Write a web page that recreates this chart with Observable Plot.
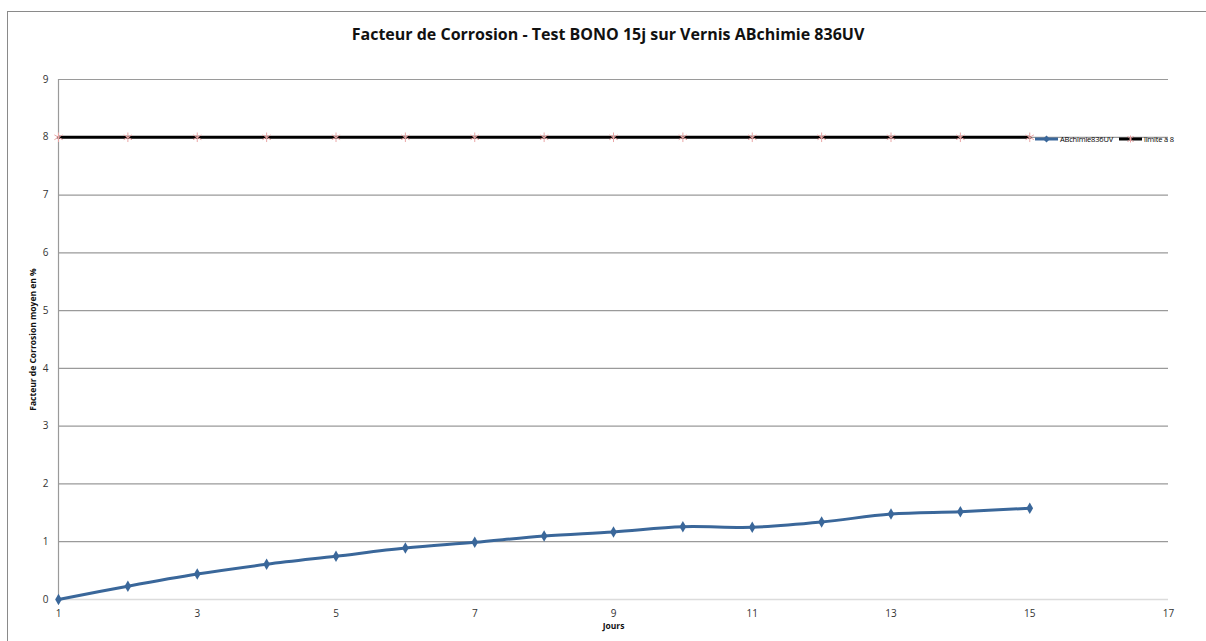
<!DOCTYPE html>
<html>
<head>
<meta charset="utf-8">
<script src="https://cdn.jsdelivr.net/npm/d3@7"></script>
<script src="https://cdn.jsdelivr.net/npm/@observablehq/plot@0.6"></script>
<style>
  html, body { margin: 0; padding: 0; background: #fff; }
  #wrap { position: relative; width: 1206px; height: 641px; overflow: hidden; font-family: "Open Sans", "Noto Sans", sans-serif; }
  #frame { position: absolute; left: 7px; top: 11px; width: 1220px; height: 700px; border-left: 1.5px solid #8a8a8a; border-top: 1.5px solid #8a8a8a; box-sizing: border-box; }
  #title { position: absolute; left: 0; width: 1216px; top: 23px; text-align: center; font-weight: bold; font-size: 16px; color: #111; }
  #chart { position: absolute; left: 0; top: 0; }
  #legend { position: absolute; left: 1034px; top: 132px; width: 200px; height: 14px; font-size: 7.5px; line-height: 14px; color: #000; white-space: nowrap; }
  #legend svg, #legend span { display: inline-block; vertical-align: top; }
  #legend span { margin-left: 1px; letter-spacing: -0.2px; }
</style>
</head>
<body>
<div id="wrap">
  <div id="frame"></div>
  <div id="chart"></div>
  <div id="title">Facteur de Corrosion - Test BONO 15j sur Vernis ABchimie 836UV</div>
  <div id="legend">
    <svg width="25" height="14"><line x1="1" x2="24" y1="7" y2="7" stroke="#3a679a" stroke-width="3"/><path d="M12.5,3.5 L16,7 L12.5,10.5 L9,7 Z" fill="#3a679a"/></svg><span>ABchimie836UV</span><svg width="25" height="14" style="margin-left:5px"><line x1="1" x2="24" y1="7" y2="7" stroke="#000" stroke-width="3"/><g stroke="#e8a0a0" stroke-width="1"><line x1="9.5" y1="4" x2="15.5" y2="10"/><line x1="15.5" y1="4" x2="9.5" y2="10"/><line x1="12.5" y1="3.5" x2="12.5" y2="10.5"/></g></svg><span>limite à 8</span>
  </div>
</div>
<script>
const jours = [1, 2, 3, 4, 5, 6, 7, 8, 9, 10, 11, 12, 13, 14, 15];
const abchimie836UV = [0, 0.23, 0.44, 0.61, 0.75, 0.89, 0.99, 1.10, 1.17, 1.26, 1.25, 1.34, 1.48, 1.52, 1.58];
const limiteA8 = [8, 8, 8, 8, 8, 8, 8, 8, 8, 8, 8, 8, 8, 8, 8];
const yTicks = [0, 1, 2, 3, 4, 5, 6, 7, 8, 9];
const xTicks = [1, 3, 5, 7, 9, 11, 13, 15, 17];

const serie = jours.map((j, i) => ({jour: j, v: abchimie836UV[i]}));
const limite = jours.map((j, i) => ({jour: j, v: limiteA8[i]}));

const chart = Plot.plot({
  width: 1206,
  height: 641,
  marginLeft: 58,
  marginRight: 38,
  marginTop: 79,
  marginBottom: 42,
  style: {fontFamily: "'Open Sans', 'Noto Sans', sans-serif", background: "transparent", color: "#333"},
  x: {domain: [1, 17]},
  y: {domain: [0, 9]},
  marks: [
    Plot.ruleY(yTicks.filter(d => d > 0), {stroke: "#9a9a9a", strokeWidth: 1.2, strokeOpacity: 1}),
    Plot.ruleY([0], {stroke: "#dcdcdc", strokeWidth: 1.5}),
    Plot.ruleX([1], {stroke: "#9a9a9a", strokeWidth: 1.2}),
    Plot.axisY({ticks: yTicks, tickSize: 0, tickPadding: 10, fontSize: 10, label: null, tickFormat: d => String(d)}),
    Plot.axisX({ticks: xTicks, tickSize: 0, tickPadding: 10, fontSize: 10, label: null, tickFormat: d => String(d)}),
    Plot.text(["Facteur de Corrosion moyen en %"], {frameAnchor: "left", dx: -25, rotate: -90, textAnchor: "middle", fontSize: 8.5, fontWeight: "bold", fill: "#111"}),
    Plot.text(["Jours"], {frameAnchor: "bottom", dy: 29, fontSize: 8.5, fontWeight: "bold", fill: "#111"}),
    Plot.line(limite, {x: "jour", y: "v", stroke: "#000", strokeWidth: 3}),
    Plot.dot(limite, {x: "jour", y: "v", symbol: "asterisk", r: 4.5, stroke: "#eaa6a6", strokeWidth: 1}),
    Plot.line(serie, {x: "jour", y: "v", stroke: "#3a679a", strokeWidth: 3, curve: "catmull-rom"}),
    Plot.dot(serie, {x: "jour", y: "v", symbol: "diamond", r: 3.5, fill: "#3a679a", stroke: "none"})
  ]
});
document.getElementById("chart").appendChild(chart);
</script>
</body>
</html>
